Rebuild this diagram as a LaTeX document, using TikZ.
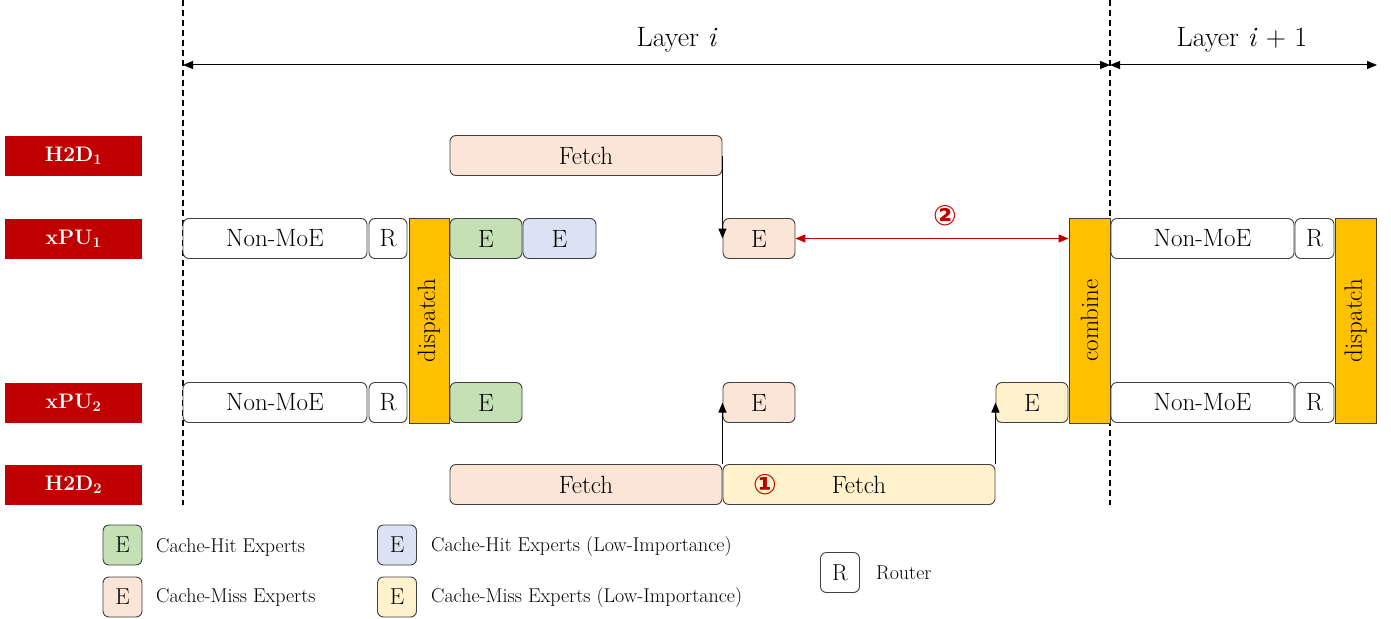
\documentclass[tikz,border=0pt]{standalone}
\usepackage{fontspec}
\newfontfamily\dejavu{DejaVu Sans}
\usetikzlibrary{arrows.meta}
\definecolor{labred}{HTML}{C00000}
\definecolor{hitg}{HTML}{C5E0B4}
\definecolor{hitb}{HTML}{DAE3F3}
\definecolor{missp}{HTML}{FBE5D6}
\definecolor{missy}{HTML}{FFF2CC}
\definecolor{barorange}{HTML}{FFC000}
\definecolor{edge}{HTML}{404040}
\tikzset{
  lab/.style={fill=labred, text=white, minimum width=137pt, minimum height=40pt, inner sep=0pt, font=\fontsize{21}{24}\selectfont\bfseries},
  box/.style={draw=edge, line width=0.9pt, rounded corners=6pt, minimum height=40pt, inner sep=0pt, font=\fontsize{25}{28}\selectfont},
  bar/.style={draw=edge, line width=0.9pt, fill=barorange, minimum width=40pt, minimum height=205pt, inner sep=0pt, font=\fontsize{25}{28}\selectfont},
  lgbox/.style={draw=edge, line width=0.9pt, rounded corners=6pt, minimum width=39pt, minimum height=40pt, inner sep=0pt, font=\fontsize{23}{26}\selectfont},
  lgtext/.style={anchor=west, inner sep=0pt, font=\fontsize{20}{23}\selectfont},
  arr/.style={line width=1pt, -{Triangle[length=10pt,width=8pt]}},
  darr/.style={line width=1pt, {Triangle[length=10pt,width=8pt]}-{Triangle[length=10pt,width=8pt]}},
  redarr/.style={draw=labred, line width=1.3pt, {Triangle[length=10pt,width=8pt]}-{Triangle[length=10pt,width=8pt]}},
  num/.style={text=labred, inner sep=0pt, font=\dejavu\bfseries\fontsize{28}{30}\selectfont},
  vdash/.style={line width=1.2pt, dash pattern=on 6pt off 4pt},
}
\begin{document}
\begin{tikzpicture}[x=1pt,y=-1pt]
\useasboundingbox (0,0) rectangle (1391,618);

% dashed layer boundaries
\coordinate (d1t) at (183,0);
\coordinate (d1b) at (183,505);
\coordinate (d2t) at (1110,0);
\coordinate (d2b) at (1110,505);
\draw[vdash] (d1t) -- (d1b);
\draw[vdash] (d2t) -- (d2b);

% layer arrows
\coordinate (la) at (183,65);
\coordinate (lb) at (1110,65);
\coordinate (lc) at (1377,65);
\draw[darr] (la) -- (lb);
\draw[darr] (lb) -- (lc);
\node[font=\fontsize{28}{31}\selectfont] (ltxt1) at (677,40) {Layer \textit{i}};
\node[font=\fontsize{28}{31}\selectfont] (ltxt2) at (1242,40) {Layer \textit{i} + 1};

% row labels
\node[lab] (h1) at (73.5,155.5) {H2D\textsubscript{1}};
\node[lab] (x1) at (73.5,238.5) {xPU\textsubscript{1}};
\node[lab] (x2) at (73.5,402.5) {xPU\textsubscript{2}};
\node[lab] (h2) at (73.5,484.5) {H2D\textsubscript{2}};

% xPU1 row
\node[box, fill=white, minimum width=184pt] (nm1) at (275,238.5) {Non-MoE};
\node[box, fill=white, minimum width=38pt] (r1) at (388,238.5) {R};
\node[box, fill=hitg, minimum width=72pt] (e1a) at (486,238.5) {E};
\node[box, fill=hitb, minimum width=73pt] (e1b) at (559.5,238.5) {E};
\node[box, fill=missp, minimum width=72pt] (e1c) at (759,238.5) {E};
\node[box, fill=white, minimum width=183pt] (nm3) at (1202.5,238.5) {Non-MoE};
\node[box, fill=white, minimum width=39pt] (r3) at (1314.5,238.5) {R};

% xPU2 row
\node[box, fill=white, minimum width=184pt] (nm2) at (275,402.5) {Non-MoE};
\node[box, fill=white, minimum width=38pt] (r2) at (388,402.5) {R};
\node[box, fill=hitg, minimum width=72pt] (e2a) at (486,402.5) {E};
\node[box, fill=missp, minimum width=72pt] (e2b) at (759,402.5) {E};
\node[box, fill=missy, minimum width=72pt] (e2c) at (1032,402.5) {E};
\node[box, fill=white, minimum width=183pt] (nm4) at (1202.5,402.5) {Non-MoE};
\node[box, fill=white, minimum width=39pt] (r4) at (1314.5,402.5) {R};

% bars
\node[bar] (disp1) at (429,320.5) {\rotatebox{90}{dispatch}};
\node[bar, minimum width=41pt] (comb) at (1089.5,320.5) {\rotatebox{90}{combine}};
\node[bar, minimum width=41pt] (disp2) at (1355.5,320.5) {\rotatebox{90}{dispatch}};

% fetch rows
\node[box, fill=missp, minimum width=272pt] (f1) at (586,155.5) {Fetch};
\node[box, fill=missp, minimum width=272pt] (f2) at (586,484.5) {Fetch};
\node[box, fill=missy, minimum width=272pt] (f3) at (859,484.5) {Fetch};

% connectors
\draw[arr] (f1.east) -- (f1.east |- e1c.center);
\draw[arr] (f2.north east) -- (f2.north east |- e2b.center);
\draw[arr] (f3.north east) -- (f3.north east |- e2c.center);
\draw[redarr] (e1c.east) -- (e1c.east -| comb.west);
\node[num] (n2) at (945,216) {②};
\node[num] (n1) at (765,485) {①};

% legend
\node[lgbox, fill=hitg] (lg1) at (122.5,545) {E};
\node[lgtext] (lt1) at (156,547) {Cache-Hit Experts};
\node[lgbox, fill=missp] (lg2) at (122.5,597) {E};
\node[lgtext] (lt2) at (156,597) {Cache-Miss Experts};
\node[lgbox, fill=hitb] (lg3) at (397,545) {E};
\node[lgtext] (lt3) at (431,547) {Cache-Hit Experts (Low-Importance)};
\node[lgbox, fill=missy] (lg4) at (397,597) {E};
\node[lgtext] (lt4) at (431,598) {Cache-Miss Experts (Low-Importance)};
\node[lgbox, fill=white] (lg5) at (840,572.5) {R};
\node[lgtext] (lt5) at (876,573) {Router};
\end{tikzpicture}
\end{document}
